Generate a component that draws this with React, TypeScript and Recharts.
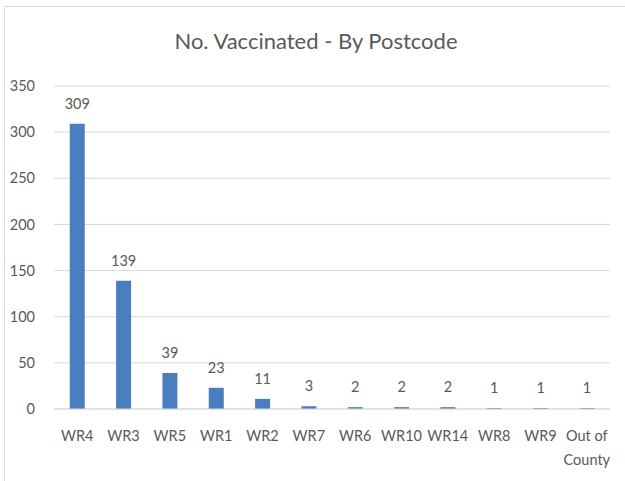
import React from "react";
import { BarChart, Bar, XAxis, YAxis, CartesianGrid, LabelList } from "recharts";

const categories = ["WR4", "WR3", "WR5", "WR1", "WR2", "WR7", "WR6", "WR10", "WR14", "WR8", "WR9", "Out of County"];
const vaccinated = [309, 139, 39, 23, 11, 3, 2, 2, 2, 1, 1, 1];
const yTicks = [0, 50, 100, 150, 200, 250, 300, 350];

const data = categories.map((c, i) => ({ name: c, value: vaccinated[i] }));

const FONT = "Lato, 'Open Sans', sans-serif";
const TEXT = "#595959";

const XTick = (props: any) => {
  const { x, y, payload } = props;
  const label: string = payload.value;
  const lines = label === "Out of County" ? ["Out of", "County"] : [label];
  return (
    <text x={x} y={y} textAnchor="middle" fill={TEXT} fontFamily={FONT} fontSize={14.5}>
      {lines.map((l, i) => (
        <tspan key={i} x={x} dy={i === 0 ? 24 : 24}>
          {l}
        </tspan>
      ))}
    </text>
  );
};

export default function App() {
  return (
    <div style={{ position: "absolute", left: 0, top: 0, width: 625, height: 481, background: "#fff" }}>
      <div
        style={{
          position: "absolute",
          left: 4,
          top: 6,
          width: 640,
          height: 490,
          borderTop: "1px solid #d9d9d9",
          borderLeft: "1px solid #d9d9d9",
          boxSizing: "border-box",
        }}
      />
      <div
        style={{
          position: "absolute",
          left: 0,
          top: 27,
          width: 632,
          textAlign: "center",
          fontFamily: FONT,
          fontSize: 22,
          color: TEXT,
        }}
      >
        No. Vaccinated - By Postcode
      </div>
      <div style={{ position: "absolute", left: 0, top: 0 }}>
        <BarChart width={625} height={481} data={data} margin={{ top: 86, right: 15, bottom: 12, left: 14 }} barCategoryGap="34%">
          <CartesianGrid vertical={false} stroke="#d9d9d9" />
          <XAxis
            dataKey="name"
            interval={0}
            height={60}
            tickLine={false}
            axisLine={{ stroke: "#d9d9d9" }}
            tick={<XTick />}
          />
          <YAxis
            domain={[0, 350]}
            ticks={yTicks}
            width={40}
            axisLine={false}
            tickLine={false}
            tickMargin={13}
            tick={{ fill: TEXT, fontFamily: FONT, fontSize: 14.5 }}
          />
          <Bar dataKey="value" fill="#4A7EBF" isAnimationActive={false}>
            <LabelList dataKey="value" position="top" offset={15} fill={TEXT} fontFamily={FONT} fontSize={14.5} />
          </Bar>
        </BarChart>
      </div>
    </div>
  );
}
